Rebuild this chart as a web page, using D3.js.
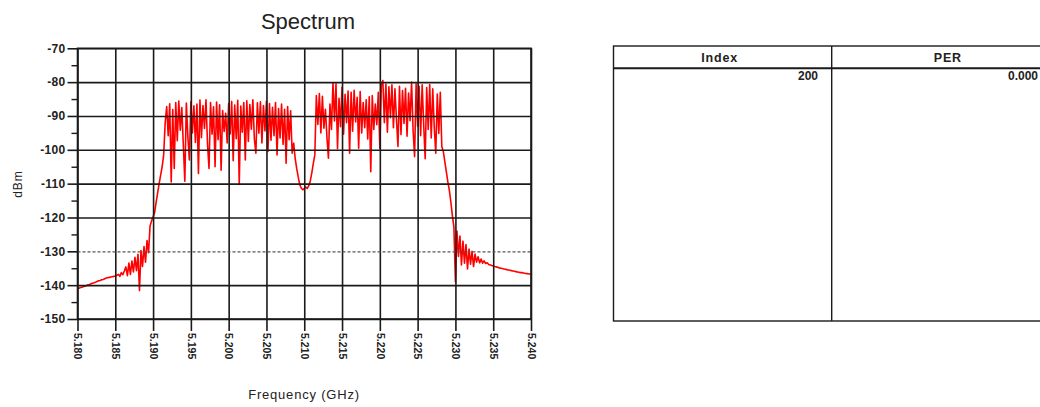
<!DOCTYPE html>
<html><head><meta charset="utf-8">
<script src="https://cdn.jsdelivr.net/npm/d3@7"></script>
<style>
body{margin:0;background:#fff;}
svg{display:block;font-family:"Liberation Sans",Arial,sans-serif;}
</style>
</head><body>
<svg id="chart" width="1040" height="407"></svg>
<script>
// ---- data ----
const freqStartGHz = 5.180;
const freqStepGHz = 0.0002;
const powerDbm = [
 -141.0,-140.9,-140.7,-140.6,-140.4,-140.3,-140.1,-139.9,-139.8,-139.6,
 -139.4,-139.3,-139.1,-138.9,-138.7,-138.6,-138.4,-138.3,-138.1,-137.9,
 -137.8,-137.7,-137.6,-137.5,-137.4,-137.3,-137.1,-136.8,-137.4,-136.3,
 -136.9,-135.8,
 -134.6,-137.2,-133.5,-136.8,-132.9,-136.1,-131.8,-135.7,-130.9,-141.6,
 -129.8,-134.5,-128.6,-133.2,-126.8,-130.4,
 -122.5,-121.0,-119.8,-118.6,-115.5,-112.8,-110.0,-107.5,-105.0,-101.5,-92.0,
 -87.2,-95.8,-86.4,-109.5,-88.1,-105.5,-86.0,-97.3,-85.6,-94.2,
 -87.5,-98.6,-109.3,-86.2,-96.1,-103.0,-85.8,-95.0,-87.0,-97.8,
 -86.5,-107.0,-85.3,-96.4,-86.9,-93.7,-85.2,-98.2,-105.5,-86.0,
 -95.4,-87.3,-105.0,-85.9,-97.0,-86.7,-106.0,-88.4,-94.6,-89.2,
 -98.0,-86.3,-95.3,-85.7,-103.2,-86.8,-96.7,-85.4,-110.2,-87.1,
 -94.8,-86.0,-103.0,-85.5,-97.5,-86.6,-93.9,-85.2,-96.8,-101.0,
 -86.1,-95.1,-85.8,-98.0,-86.9,-94.4,-85.6,-100.5,-86.3,-97.2,
 -87.4,-95.8,-86.0,-101.5,-87.8,-96.5,-86.5,-98.4,-88.0,-104.0,
 -87.2,-97.0,-88.5,-101.0,
 -98.0,-102.5,-105.5,-108.0,-110.2,-111.3,-111.8,-111.5,-111.0,-111.4,
 -110.6,-109.2,-106.8,-104.0,-101.5,
 -84.0,-92.5,-83.4,-95.0,-84.2,-93.6,-88.0,-96.2,-102.5,-86.5,
 -94.0,-80.2,-91.5,-80.5,-99.7,-84.8,-93.2,-81.5,-95.4,-83.6,
 -92.0,-82.6,-101.0,-83.0,-94.5,-82.4,-91.8,-84.5,-99.5,-82.8,
 -95.0,-86.0,-93.5,-85.2,-96.8,-84.3,-106.5,-84.0,-94.0,-86.5,
 -92.6,-83.0,-99.5,-81.0,-79.5,-92.0,-80.6,-94.8,-81.4,-90.5,
 -80.8,-93.5,-82.0,-91.0,-99.0,-81.2,-95.5,-82.5,-92.2,-81.8,
 -96.0,-83.2,-91.4,-80.0,-94.2,-102.0,-80.5,-93.0,-81.2,-95.8,
 -80.8,-92.4,-102.6,-81.6,-94.0,-80.7,-96.5,-82.0,-93.3,-101.0,
 -83.5,-95.2,-83.0,-99.0,
 -100.5,-103.5,-106.5,-109.5,-112.0,-115.5,-119.5,-122.8,-139.0,-124.0,
 -131.5,-125.5,-134.0,-127.0,-133.5,-128.0,-135.2,-129.3,-133.8,-130.0,
 -134.5,-130.8,-133.2,-131.6,-133.4,-132.3,-133.5,-132.8,-133.6,-133.4,
 -133.9,-134.0,-134.2,-134.3,-134.5,-134.6,-134.7,-134.9,-135.0,-135.1,
 -135.2,-135.3,-135.4,-135.5,-135.6,-135.7,-135.8,-135.9,-136.0,-136.1,
 -136.2,-136.3,-136.3,-136.4,-136.5,-136.6,-136.6,-136.7,-136.8
];
const xTickValues = [5.180,5.185,5.190,5.195,5.200,5.205,5.210,5.215,5.220,5.225,5.230,5.235,5.240];
const yTickValues = [-150,-140,-130,-120,-110,-100,-90,-80,-70];
const yMinorTickValues = [-145,-135,-125,-115,-105,-95,-85,-75];
const thresholdDbm = -130;
const tableColumns = ["Index","PER"];
const tableRowValues = ["200","0.000"];

// ---- layout ----
const svg = d3.select("#chart");
const X0 = 77.5, X1 = 531, Y0 = 48.3, Y1 = 319;
const x = d3.scaleLinear().domain([5.180, 5.240]).range([X0, X1]);
const y = d3.scaleLinear().domain([-150, -70]).range([Y1, Y0]);
const points = powerDbm.map((p, i) => ({f: freqStartGHz + i * freqStepGHz, p}));
const narrow = "'Liberation Sans Narrow','Liberation Sans',Arial,sans-serif";

// title
svg.append("text").attr("x", 308).attr("y", 29).attr("text-anchor", "middle")
  .attr("font-size", 22).attr("fill", "#222").text("Spectrum");

// spectrum line
svg.append("path").datum(points)
  .attr("fill", "none").attr("stroke", "#ff0000").attr("stroke-width", 1.6)
  .attr("stroke-linejoin", "round")
  .attr("d", d3.line().x(d => x(d.f)).y(d => y(d.p)));

// grid (drawn over data like the reference)
const gx = svg.append("g").attr("transform", `translate(0,${Y1})`)
  .call(d3.axisBottom(x).tickValues(xTickValues).tickSize(-(Y1 - Y0)).tickFormat(""));
gx.select(".domain").remove();
gx.selectAll("line").attr("stroke", "#1a1a1a").attr("stroke-width", 1.6);

const gy = svg.append("g").attr("transform", `translate(${X0},0)`)
  .call(d3.axisLeft(y).tickValues(yTickValues).tickSize(-(X1 - X0)).tickFormat(""));
gy.select(".domain").remove();
gy.selectAll(".tick line").attr("stroke", "#1a1a1a").attr("stroke-width", 1.6)
  .filter(d => d === thresholdDbm)
  .attr("stroke", "#555").attr("stroke-width", 1.2).attr("stroke-dasharray", "3,2");

// bottom axis ticks + labels
const ax = svg.append("g").attr("transform", `translate(0,${Y1})`)
  .call(d3.axisBottom(x).tickValues(xTickValues).tickSize(12).tickPadding(2)
    .tickFormat(d3.format(".3f")));
ax.select(".domain").remove();
ax.selectAll("line").attr("stroke", "#1a1a1a").attr("stroke-width", 1.6);
ax.selectAll("text")
  .attr("transform", "rotate(90)")
  .attr("text-anchor", "start")
  .attr("x", 14).attr("y", 0).attr("dy", "0.35em")
  .attr("font-size", 10.5).attr("font-weight", "bold").attr("fill", "#222")
  .attr("font-family", narrow);

// left axis major + minor
const ay = svg.append("g").attr("transform", `translate(${X0},0)`)
  .call(d3.axisLeft(y).tickValues(yTickValues).tickSize(10).tickPadding(2)
    .tickFormat(d => String(d)));
ay.select(".domain").remove();
ay.selectAll("line").attr("stroke", "#1a1a1a").attr("stroke-width", 1.6);
ay.selectAll("text").attr("font-size", 12).attr("fill", "#222")
  .attr("letter-spacing", 0.3).attr("font-family", narrow).attr("font-weight", "bold");

const am = svg.append("g").attr("transform", `translate(${X0},0)`)
  .call(d3.axisLeft(y).tickValues(yMinorTickValues).tickSize(6).tickFormat(""));
am.select(".domain").remove();
am.selectAll("line").attr("stroke", "#1a1a1a").attr("stroke-width", 1.4);

// plot border
svg.append("rect").attr("x", X0).attr("y", Y0).attr("width", X1 - X0).attr("height", Y1 - Y0)
  .attr("fill", "none").attr("stroke", "#1a1a1a").attr("stroke-width", 1.6);

// axis titles
svg.append("text").attr("x", 304).attr("y", 399).attr("text-anchor", "middle")
  .attr("font-size", 13).attr("letter-spacing", 0.8).attr("fill", "#222")
  .text("Frequency (GHz)");
svg.append("text").attr("transform", "translate(22,184) rotate(-90)")
  .attr("text-anchor", "middle").attr("font-size", 12).attr("letter-spacing", 1)
  .attr("fill", "#222").text("dBm");

// ---- table ----
const TX0 = 613.5, TX1 = 1070, TXm = 831.7, TY0 = 46, TYh = 68.3, TY1 = 321;
const tbl = svg.append("g");
tbl.append("rect").attr("x", TX0).attr("y", TY0).attr("width", TX1 - TX0).attr("height", TY1 - TY0)
  .attr("fill", "none").attr("stroke", "#1a1a1a").attr("stroke-width", 1.4);
tbl.append("line").attr("x1", TX0).attr("x2", TX1).attr("y1", TYh).attr("y2", TYh)
  .attr("stroke", "#1a1a1a").attr("stroke-width", 2);
tbl.append("line").attr("x1", TXm).attr("x2", TXm).attr("y1", TY0).attr("y2", TY1)
  .attr("stroke", "#1a1a1a").attr("stroke-width", 1.4);
const colCenters = [(TX0 + TXm) / 2 - 3, (TXm + TX1) / 2 - 3];
tbl.selectAll("text.hdr").data(tableColumns).join("text").attr("class", "hdr")
  .attr("x", (d, i) => colCenters[i]).attr("y", 62).attr("text-anchor", "middle")
  .attr("font-size", 12.5).attr("letter-spacing", 0.8).attr("fill", "#222")
  .attr("font-family", narrow).attr("font-weight", "bold")
  .text(d => d);
const valX = [818, 1038];
tbl.selectAll("text.val").data(tableRowValues).join("text").attr("class", "val")
  .attr("x", (d, i) => valX[i]).attr("y", 80).attr("text-anchor", "end")
  .attr("font-size", 12).attr("font-weight", "bold").attr("fill", "#222")
  .attr("font-family", narrow)
  .text(d => d);
</script>
</body></html>
